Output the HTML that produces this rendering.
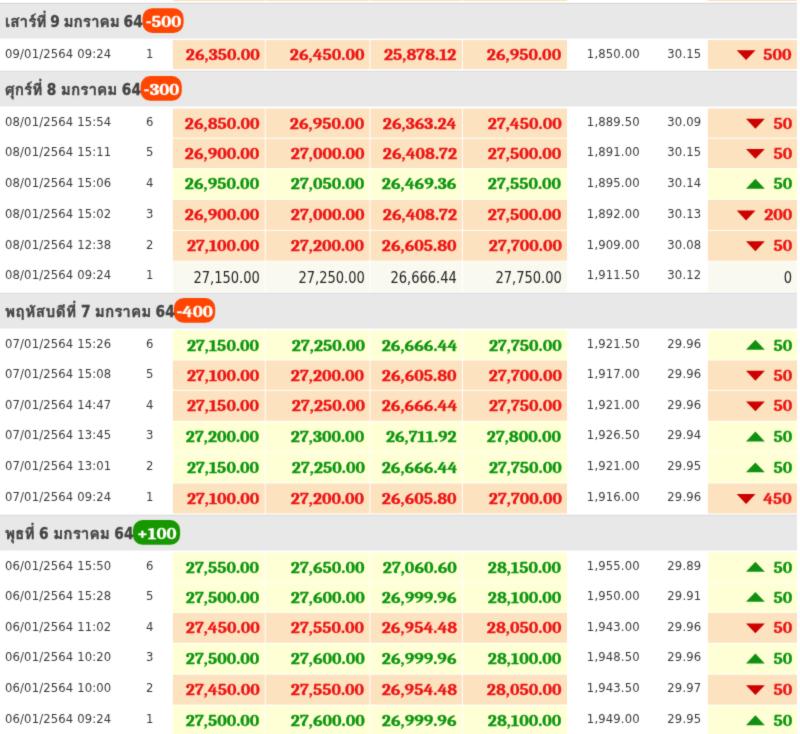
<!DOCTYPE html>
<html lang="th">
<head>
<meta charset="utf-8">
<title>ราคาทองย้อนหลัง</title>
<style>
html,body{margin:0;padding:0;background:#fff;}
body{width:800px;height:734px;overflow:hidden;position:relative;
  font-family:"DejaVu Sans Condensed","Liberation Sans","Loma","Noto Sans Thai",sans-serif;font-size:13.27px;color:#3a3a3a;}
#wrap{position:absolute;left:-8px;top:-8px;width:816px;height:750px;overflow:hidden;background:#fff;filter:url(#soft);}
#in{position:absolute;left:8px;top:8px;width:800px;height:742px;}
#bg{position:absolute;left:-8px;top:-8px;display:block;}
.head{position:absolute;left:0;width:797px;height:34.7px;line-height:34.7px;white-space:nowrap;}
.ttl{position:absolute;left:5px;top:0.8px;font-family:"DejaVu Sans Condensed","Loma","Noto Sans Thai","Liberation Sans",sans-serif;font-weight:bold;font-size:15.3px;color:#444;-webkit-text-stroke:0.3px #444;}
.ttl span{font-family:"Loma","Noto Sans Thai","Liberation Sans",sans-serif;font-size:15.3px;}
.badge{position:absolute;top:4.3px;height:24.7px;line-height:29.6px;text-align:center;color:#fff;
  font-family:"Caladea","Liberation Serif",serif;font-weight:bold;font-size:18.3px;transform:scale(1.03,0.915);-webkit-text-stroke:0.3px #fff;}
.row{position:absolute;left:0;width:797px;white-space:nowrap;}
.row span{position:absolute;top:0;height:100%;display:block;box-sizing:border-box;}
.dt{left:5px;}
.dt,.no,.p{font-size:12.9px;letter-spacing:.15px;margin-top:-1.3px;}
.no{left:129.7px;width:40px;text-align:center;}
.c{text-align:right;}
.c b{font-family:"Caladea","Liberation Serif",serif;font-weight:bold;font-size:17.35px;position:relative;top:0.3px;display:inline-block;transform:scale(1.03,0.915);transform-origin:100% 50%;-webkit-text-stroke:0.3px currentColor;}
.c1{left:172.9px;width:91.8px;padding-right:5.2px;}
.c2{left:265.7px;width:103.8px;padding-right:5px;}
.c3{left:370.5px;width:91.4px;padding-right:5px;}
.c4{left:462.9px;width:104.1px;padding-right:5.5px;}
.c7{left:707.9px;width:89.1px;padding-right:5px;}
.p{text-align:right;}
.p5{left:570px;width:69.7px;}
.p6{left:650px;width:51.3px;}
.d .c{color:#ec1414;}
.u .c{color:#0c960c;}
.n .c{color:#222;}
.n .c b{font-family:"DejaVu Sans Condensed","Liberation Sans",sans-serif;font-weight:normal;font-size:15.7px;top:1.1px;transform:scale(0.925,1);-webkit-text-stroke:0;}
</style>
</head>
<body>
<svg width="0" height="0" style="position:absolute"><defs><filter id="soft" x="0" y="0" width="100%" height="100%" color-interpolation-filters="sRGB"><feConvolveMatrix order="3" kernelMatrix="1 4 1 4 30 4 1 4 1" divisor="50" edgeMode="duplicate" preserveAlpha="true"/></filter></defs></svg>
<div id="wrap">
<div id="in">
<svg id="bg" width="816" height="750" viewBox="-8 -8 816 750">
<rect x="172.9" y="-28" width="91.8" height="29.1" fill="#fce2bf"/>
<rect x="265.7" y="-28" width="103.8" height="29.1" fill="#fce2bf"/>
<rect x="370.5" y="-28" width="91.4" height="29.1" fill="#fce2bf"/>
<rect x="462.9" y="-28" width="104.1" height="29.1" fill="#fce2bf"/>
<rect x="707.9" y="-28" width="89.1" height="29.1" fill="#fce2bf"/>
<rect x="-8" y="2.9" width="805" height="1" fill="#d0d0d0"/>
<rect x="-8" y="3.9" width="805" height="34.7" fill="#e8e8e8"/>
<rect x="142.5" y="8.2" width="41.1" height="24.7" rx="9.8" ry="9.8" fill="#ff4500"/>
<rect x="172.9" y="40.1" width="91.8" height="29" fill="#fce2bf"/>
<rect x="265.7" y="40.1" width="103.8" height="29" fill="#fce2bf"/>
<rect x="370.5" y="40.1" width="91.4" height="29" fill="#fce2bf"/>
<rect x="462.9" y="40.1" width="104.1" height="29" fill="#fce2bf"/>
<rect x="707.9" y="40.1" width="89.1" height="29" fill="#fce2bf"/>
<polygon points="736.7,50.2 755.5,50.2 746.1,60.1" fill="#cc0000"/>
<rect x="-8" y="70.8" width="805" height="1" fill="#d0d0d0"/>
<rect x="-8" y="71.8" width="805" height="34.7" fill="#e8e8e8"/>
<rect x="140.6" y="76.1" width="41.2" height="24.7" rx="9.8" ry="9.8" fill="#ff4500"/>
<rect x="172.9" y="108.6" width="91.8" height="29.1" fill="#fce2bf"/>
<rect x="265.7" y="108.6" width="103.8" height="29.1" fill="#fce2bf"/>
<rect x="370.5" y="108.6" width="91.4" height="29.1" fill="#fce2bf"/>
<rect x="462.9" y="108.6" width="104.1" height="29.1" fill="#fce2bf"/>
<rect x="707.9" y="108.6" width="89.1" height="29.1" fill="#fce2bf"/>
<polygon points="746,118.75 764.8,118.75 755.4,128.65" fill="#cc0000"/>
<rect x="172.9" y="138.7" width="91.8" height="29.3" fill="#fce2bf"/>
<rect x="265.7" y="138.7" width="103.8" height="29.3" fill="#fce2bf"/>
<rect x="370.5" y="138.7" width="91.4" height="29.3" fill="#fce2bf"/>
<rect x="462.9" y="138.7" width="104.1" height="29.3" fill="#fce2bf"/>
<rect x="707.9" y="138.7" width="89.1" height="29.3" fill="#fce2bf"/>
<polygon points="746,148.95 764.8,148.95 755.4,158.85" fill="#cc0000"/>
<rect x="172.9" y="169" width="91.8" height="29.95" fill="#ffffd6"/>
<rect x="265.7" y="169" width="103.8" height="29.95" fill="#ffffd6"/>
<rect x="370.5" y="169" width="91.4" height="29.95" fill="#ffffd6"/>
<rect x="462.9" y="169" width="104.1" height="29.95" fill="#ffffd6"/>
<rect x="707.9" y="169" width="89.1" height="29.95" fill="#ffffd6"/>
<polygon points="746,188.67 764.8,188.67 755.4,178.78" fill="#109010"/>
<rect x="172.9" y="199.95" width="91.8" height="29.9" fill="#fce2bf"/>
<rect x="265.7" y="199.95" width="103.8" height="29.9" fill="#fce2bf"/>
<rect x="370.5" y="199.95" width="91.4" height="29.9" fill="#fce2bf"/>
<rect x="462.9" y="199.95" width="104.1" height="29.9" fill="#fce2bf"/>
<rect x="707.9" y="199.95" width="89.1" height="29.9" fill="#fce2bf"/>
<polygon points="736.7,210.5 755.5,210.5 746.1,220.4" fill="#cc0000"/>
<rect x="172.9" y="230.85" width="91.8" height="29.85" fill="#fce2bf"/>
<rect x="265.7" y="230.85" width="103.8" height="29.85" fill="#fce2bf"/>
<rect x="370.5" y="230.85" width="91.4" height="29.85" fill="#fce2bf"/>
<rect x="462.9" y="230.85" width="104.1" height="29.85" fill="#fce2bf"/>
<rect x="707.9" y="230.85" width="89.1" height="29.85" fill="#fce2bf"/>
<polygon points="746,241.37 764.8,241.37 755.4,251.27" fill="#cc0000"/>
<rect x="172.9" y="261.7" width="91.8" height="30" fill="#faf9f0"/>
<rect x="265.7" y="261.7" width="103.8" height="30" fill="#faf9f0"/>
<rect x="370.5" y="261.7" width="91.4" height="30" fill="#faf9f0"/>
<rect x="462.9" y="261.7" width="104.1" height="30" fill="#faf9f0"/>
<rect x="707.9" y="261.7" width="89.1" height="30" fill="#faf9f0"/>
<rect x="-8" y="292.8" width="805" height="1" fill="#d0d0d0"/>
<rect x="-8" y="293.8" width="805" height="34.7" fill="#e8e8e8"/>
<rect x="173.9" y="298.1" width="41.3" height="24.7" rx="9.8" ry="9.8" fill="#ff4500"/>
<rect x="172.9" y="330.4" width="91.8" height="29.1" fill="#ffffd6"/>
<rect x="265.7" y="330.4" width="103.8" height="29.1" fill="#ffffd6"/>
<rect x="370.5" y="330.4" width="91.4" height="29.1" fill="#ffffd6"/>
<rect x="462.9" y="330.4" width="104.1" height="29.1" fill="#ffffd6"/>
<rect x="707.9" y="330.4" width="89.1" height="29.1" fill="#ffffd6"/>
<polygon points="746,349.65 764.8,349.65 755.4,339.75" fill="#109010"/>
<rect x="172.9" y="360.5" width="91.8" height="29.3" fill="#fce2bf"/>
<rect x="265.7" y="360.5" width="103.8" height="29.3" fill="#fce2bf"/>
<rect x="370.5" y="360.5" width="91.4" height="29.3" fill="#fce2bf"/>
<rect x="462.9" y="360.5" width="104.1" height="29.3" fill="#fce2bf"/>
<rect x="707.9" y="360.5" width="89.1" height="29.3" fill="#fce2bf"/>
<polygon points="746,370.75 764.8,370.75 755.4,380.65" fill="#cc0000"/>
<rect x="172.9" y="390.8" width="91.8" height="29.95" fill="#fce2bf"/>
<rect x="265.7" y="390.8" width="103.8" height="29.95" fill="#fce2bf"/>
<rect x="370.5" y="390.8" width="91.4" height="29.95" fill="#fce2bf"/>
<rect x="462.9" y="390.8" width="104.1" height="29.95" fill="#fce2bf"/>
<rect x="707.9" y="390.8" width="89.1" height="29.95" fill="#fce2bf"/>
<polygon points="746,401.38 764.8,401.38 755.4,411.27" fill="#cc0000"/>
<rect x="172.9" y="421.75" width="91.8" height="29.9" fill="#ffffd6"/>
<rect x="265.7" y="421.75" width="103.8" height="29.9" fill="#ffffd6"/>
<rect x="370.5" y="421.75" width="91.4" height="29.9" fill="#ffffd6"/>
<rect x="462.9" y="421.75" width="104.1" height="29.9" fill="#ffffd6"/>
<rect x="707.9" y="421.75" width="89.1" height="29.9" fill="#ffffd6"/>
<polygon points="746,441.4 764.8,441.4 755.4,431.5" fill="#109010"/>
<rect x="172.9" y="452.65" width="91.8" height="29.85" fill="#ffffd6"/>
<rect x="265.7" y="452.65" width="103.8" height="29.85" fill="#ffffd6"/>
<rect x="370.5" y="452.65" width="91.4" height="29.85" fill="#ffffd6"/>
<rect x="462.9" y="452.65" width="104.1" height="29.85" fill="#ffffd6"/>
<rect x="707.9" y="452.65" width="89.1" height="29.85" fill="#ffffd6"/>
<polygon points="746,472.27 764.8,472.27 755.4,462.38" fill="#109010"/>
<rect x="172.9" y="483.5" width="91.8" height="30" fill="#fce2bf"/>
<rect x="265.7" y="483.5" width="103.8" height="30" fill="#fce2bf"/>
<rect x="370.5" y="483.5" width="91.4" height="30" fill="#fce2bf"/>
<rect x="462.9" y="483.5" width="104.1" height="30" fill="#fce2bf"/>
<rect x="707.9" y="483.5" width="89.1" height="30" fill="#fce2bf"/>
<polygon points="736.7,494.1 755.5,494.1 746.1,504" fill="#cc0000"/>
<rect x="-8" y="514.8" width="805" height="1" fill="#d0d0d0"/>
<rect x="-8" y="515.8" width="805" height="34.7" fill="#e8e8e8"/>
<rect x="132.9" y="520.1" width="47.2" height="24.7" rx="9.8" ry="9.8" fill="#179800"/>
<rect x="172.9" y="552.4" width="91.8" height="29.1" fill="#ffffd6"/>
<rect x="265.7" y="552.4" width="103.8" height="29.1" fill="#ffffd6"/>
<rect x="370.5" y="552.4" width="91.4" height="29.1" fill="#ffffd6"/>
<rect x="462.9" y="552.4" width="104.1" height="29.1" fill="#ffffd6"/>
<rect x="707.9" y="552.4" width="89.1" height="29.1" fill="#ffffd6"/>
<polygon points="746,571.65 764.8,571.65 755.4,561.75" fill="#109010"/>
<rect x="172.9" y="582.5" width="91.8" height="29.3" fill="#ffffd6"/>
<rect x="265.7" y="582.5" width="103.8" height="29.3" fill="#ffffd6"/>
<rect x="370.5" y="582.5" width="91.4" height="29.3" fill="#ffffd6"/>
<rect x="462.9" y="582.5" width="104.1" height="29.3" fill="#ffffd6"/>
<rect x="707.9" y="582.5" width="89.1" height="29.3" fill="#ffffd6"/>
<polygon points="746,601.85 764.8,601.85 755.4,591.95" fill="#109010"/>
<rect x="172.9" y="612.8" width="91.8" height="29.95" fill="#fce2bf"/>
<rect x="265.7" y="612.8" width="103.8" height="29.95" fill="#fce2bf"/>
<rect x="370.5" y="612.8" width="91.4" height="29.95" fill="#fce2bf"/>
<rect x="462.9" y="612.8" width="104.1" height="29.95" fill="#fce2bf"/>
<rect x="707.9" y="612.8" width="89.1" height="29.95" fill="#fce2bf"/>
<polygon points="746,623.38 764.8,623.38 755.4,633.27" fill="#cc0000"/>
<rect x="172.9" y="643.75" width="91.8" height="29.9" fill="#ffffd6"/>
<rect x="265.7" y="643.75" width="103.8" height="29.9" fill="#ffffd6"/>
<rect x="370.5" y="643.75" width="91.4" height="29.9" fill="#ffffd6"/>
<rect x="462.9" y="643.75" width="104.1" height="29.9" fill="#ffffd6"/>
<rect x="707.9" y="643.75" width="89.1" height="29.9" fill="#ffffd6"/>
<polygon points="746,663.4 764.8,663.4 755.4,653.5" fill="#109010"/>
<rect x="172.9" y="674.65" width="91.8" height="29.85" fill="#fce2bf"/>
<rect x="265.7" y="674.65" width="103.8" height="29.85" fill="#fce2bf"/>
<rect x="370.5" y="674.65" width="91.4" height="29.85" fill="#fce2bf"/>
<rect x="462.9" y="674.65" width="104.1" height="29.85" fill="#fce2bf"/>
<rect x="707.9" y="674.65" width="89.1" height="29.85" fill="#fce2bf"/>
<polygon points="746,685.17 764.8,685.17 755.4,695.07" fill="#cc0000"/>
<rect x="172.9" y="705.5" width="91.8" height="30" fill="#ffffd6"/>
<rect x="265.7" y="705.5" width="103.8" height="30" fill="#ffffd6"/>
<rect x="370.5" y="705.5" width="91.4" height="30" fill="#ffffd6"/>
<rect x="462.9" y="705.5" width="104.1" height="30" fill="#ffffd6"/>
<rect x="707.9" y="705.5" width="89.1" height="30" fill="#ffffd6"/>
<polygon points="746,725.2 764.8,725.2 755.4,715.3" fill="#109010"/>
</svg>
<div class="head" style="top:3.9px"><span class="ttl" style="word-spacing:-1.1px"><span>เสาร์ที่</span> 9 <span>มกราคม</span> 64</span><span class="badge" style="left:142.5px;width:41.1px">-500</span></div>
<div class="row d" style="top:40.1px;height:29px;line-height:29px"><span class="dt">09/01/2564 09:24</span><span class="no">1</span><span class="c c1"><b>26,350.00</b></span><span class="c c2"><b>26,450.00</b></span><span class="c c3"><b>25,878.12</b></span><span class="c c4"><b>26,950.00</b></span><span class="p p5">1,850.00</span><span class="p p6">30.15</span><span class="c c7"><b>500</b></span></div>
<div class="head" style="top:71.8px"><span class="ttl" style="word-spacing:-0.3px"><span>ศุกร์ที่</span> 8 <span>มกราคม</span> 64</span><span class="badge" style="left:140.6px;width:41.2px">-300</span></div>
<div class="row d" style="top:108.6px;height:29.1px;line-height:29.1px"><span class="dt">08/01/2564 15:54</span><span class="no">6</span><span class="c c1"><b>26,850.00</b></span><span class="c c2"><b>26,950.00</b></span><span class="c c3"><b>26,363.24</b></span><span class="c c4"><b>27,450.00</b></span><span class="p p5">1,889.50</span><span class="p p6">30.09</span><span class="c c7"><b>50</b></span></div>
<div class="row d" style="top:138.7px;height:29.3px;line-height:29.3px"><span class="dt">08/01/2564 15:11</span><span class="no">5</span><span class="c c1"><b>26,900.00</b></span><span class="c c2"><b>27,000.00</b></span><span class="c c3"><b>26,408.72</b></span><span class="c c4"><b>27,500.00</b></span><span class="p p5">1,891.00</span><span class="p p6">30.15</span><span class="c c7"><b>50</b></span></div>
<div class="row u" style="top:169px;height:29.95px;line-height:29.95px"><span class="dt">08/01/2564 15:06</span><span class="no">4</span><span class="c c1"><b>26,950.00</b></span><span class="c c2"><b>27,050.00</b></span><span class="c c3"><b>26,469.36</b></span><span class="c c4"><b>27,550.00</b></span><span class="p p5">1,895.00</span><span class="p p6">30.14</span><span class="c c7"><b>50</b></span></div>
<div class="row d" style="top:199.95px;height:29.9px;line-height:29.9px"><span class="dt">08/01/2564 15:02</span><span class="no">3</span><span class="c c1"><b>26,900.00</b></span><span class="c c2"><b>27,000.00</b></span><span class="c c3"><b>26,408.72</b></span><span class="c c4"><b>27,500.00</b></span><span class="p p5">1,892.00</span><span class="p p6">30.13</span><span class="c c7"><b>200</b></span></div>
<div class="row d" style="top:230.85px;height:29.85px;line-height:29.85px"><span class="dt">08/01/2564 12:38</span><span class="no">2</span><span class="c c1"><b>27,100.00</b></span><span class="c c2"><b>27,200.00</b></span><span class="c c3"><b>26,605.80</b></span><span class="c c4"><b>27,700.00</b></span><span class="p p5">1,909.00</span><span class="p p6">30.08</span><span class="c c7"><b>50</b></span></div>
<div class="row n" style="top:261.7px;height:30px;line-height:30px"><span class="dt">08/01/2564 09:24</span><span class="no">1</span><span class="c c1"><b>27,150.00</b></span><span class="c c2"><b>27,250.00</b></span><span class="c c3"><b>26,666.44</b></span><span class="c c4"><b>27,750.00</b></span><span class="p p5">1,911.50</span><span class="p p6">30.12</span><span class="c c7"><b>0</b></span></div>
<div class="head" style="top:293.8px"><span class="ttl" style="word-spacing:-0.5px"><span style="letter-spacing:.45px">พฤหัสบดีที่</span> 7 <span>มกราคม</span> 64</span><span class="badge" style="left:173.9px;width:41.3px">-400</span></div>
<div class="row u" style="top:330.4px;height:29.1px;line-height:29.1px"><span class="dt">07/01/2564 15:26</span><span class="no">6</span><span class="c c1"><b>27,150.00</b></span><span class="c c2"><b>27,250.00</b></span><span class="c c3"><b>26,666.44</b></span><span class="c c4"><b>27,750.00</b></span><span class="p p5">1,921.50</span><span class="p p6">29.96</span><span class="c c7"><b>50</b></span></div>
<div class="row d" style="top:360.5px;height:29.3px;line-height:29.3px"><span class="dt">07/01/2564 15:08</span><span class="no">5</span><span class="c c1"><b>27,100.00</b></span><span class="c c2"><b>27,200.00</b></span><span class="c c3"><b>26,605.80</b></span><span class="c c4"><b>27,700.00</b></span><span class="p p5">1,917.00</span><span class="p p6">29.96</span><span class="c c7"><b>50</b></span></div>
<div class="row d" style="top:390.8px;height:29.95px;line-height:29.95px"><span class="dt">07/01/2564 14:47</span><span class="no">4</span><span class="c c1"><b>27,150.00</b></span><span class="c c2"><b>27,250.00</b></span><span class="c c3"><b>26,666.44</b></span><span class="c c4"><b>27,750.00</b></span><span class="p p5">1,921.00</span><span class="p p6">29.96</span><span class="c c7"><b>50</b></span></div>
<div class="row u" style="top:421.75px;height:29.9px;line-height:29.9px"><span class="dt">07/01/2564 13:45</span><span class="no">3</span><span class="c c1"><b>27,200.00</b></span><span class="c c2"><b>27,300.00</b></span><span class="c c3"><b>26,711.92</b></span><span class="c c4"><b>27,800.00</b></span><span class="p p5">1,926.50</span><span class="p p6">29.94</span><span class="c c7"><b>50</b></span></div>
<div class="row u" style="top:452.65px;height:29.85px;line-height:29.85px"><span class="dt">07/01/2564 13:01</span><span class="no">2</span><span class="c c1"><b>27,150.00</b></span><span class="c c2"><b>27,250.00</b></span><span class="c c3"><b>26,666.44</b></span><span class="c c4"><b>27,750.00</b></span><span class="p p5">1,921.00</span><span class="p p6">29.95</span><span class="c c7"><b>50</b></span></div>
<div class="row d" style="top:483.5px;height:30px;line-height:30px"><span class="dt">07/01/2564 09:24</span><span class="no">1</span><span class="c c1"><b>27,100.00</b></span><span class="c c2"><b>27,200.00</b></span><span class="c c3"><b>26,605.80</b></span><span class="c c4"><b>27,700.00</b></span><span class="p p5">1,916.00</span><span class="p p6">29.96</span><span class="c c7"><b>450</b></span></div>
<div class="head" style="top:515.8px"><span class="ttl" style="word-spacing:-0.2px"><span>พุธที่</span> 6 <span>มกราคม</span> 64</span><span class="badge" style="left:132.9px;width:47.2px">+100</span></div>
<div class="row u" style="top:552.4px;height:29.1px;line-height:29.1px"><span class="dt">06/01/2564 15:50</span><span class="no">6</span><span class="c c1"><b>27,550.00</b></span><span class="c c2"><b>27,650.00</b></span><span class="c c3"><b>27,060.60</b></span><span class="c c4"><b>28,150.00</b></span><span class="p p5">1,955.00</span><span class="p p6">29.89</span><span class="c c7"><b>50</b></span></div>
<div class="row u" style="top:582.5px;height:29.3px;line-height:29.3px"><span class="dt">06/01/2564 15:28</span><span class="no">5</span><span class="c c1"><b>27,500.00</b></span><span class="c c2"><b>27,600.00</b></span><span class="c c3"><b>26,999.96</b></span><span class="c c4"><b>28,100.00</b></span><span class="p p5">1,950.00</span><span class="p p6">29.91</span><span class="c c7"><b>50</b></span></div>
<div class="row d" style="top:612.8px;height:29.95px;line-height:29.95px"><span class="dt">06/01/2564 11:02</span><span class="no">4</span><span class="c c1"><b>27,450.00</b></span><span class="c c2"><b>27,550.00</b></span><span class="c c3"><b>26,954.48</b></span><span class="c c4"><b>28,050.00</b></span><span class="p p5">1,943.00</span><span class="p p6">29.96</span><span class="c c7"><b>50</b></span></div>
<div class="row u" style="top:643.75px;height:29.9px;line-height:29.9px"><span class="dt">06/01/2564 10:20</span><span class="no">3</span><span class="c c1"><b>27,500.00</b></span><span class="c c2"><b>27,600.00</b></span><span class="c c3"><b>26,999.96</b></span><span class="c c4"><b>28,100.00</b></span><span class="p p5">1,948.50</span><span class="p p6">29.96</span><span class="c c7"><b>50</b></span></div>
<div class="row d" style="top:674.65px;height:29.85px;line-height:29.85px"><span class="dt">06/01/2564 10:00</span><span class="no">2</span><span class="c c1"><b>27,450.00</b></span><span class="c c2"><b>27,550.00</b></span><span class="c c3"><b>26,954.48</b></span><span class="c c4"><b>28,050.00</b></span><span class="p p5">1,943.50</span><span class="p p6">29.97</span><span class="c c7"><b>50</b></span></div>
<div class="row u" style="top:705.5px;height:30px;line-height:30px"><span class="dt">06/01/2564 09:24</span><span class="no">1</span><span class="c c1"><b>27,500.00</b></span><span class="c c2"><b>27,600.00</b></span><span class="c c3"><b>26,999.96</b></span><span class="c c4"><b>28,100.00</b></span><span class="p p5">1,949.00</span><span class="p p6">29.95</span><span class="c c7"><b>50</b></span></div>
</div>
</div>
</body>
</html>
